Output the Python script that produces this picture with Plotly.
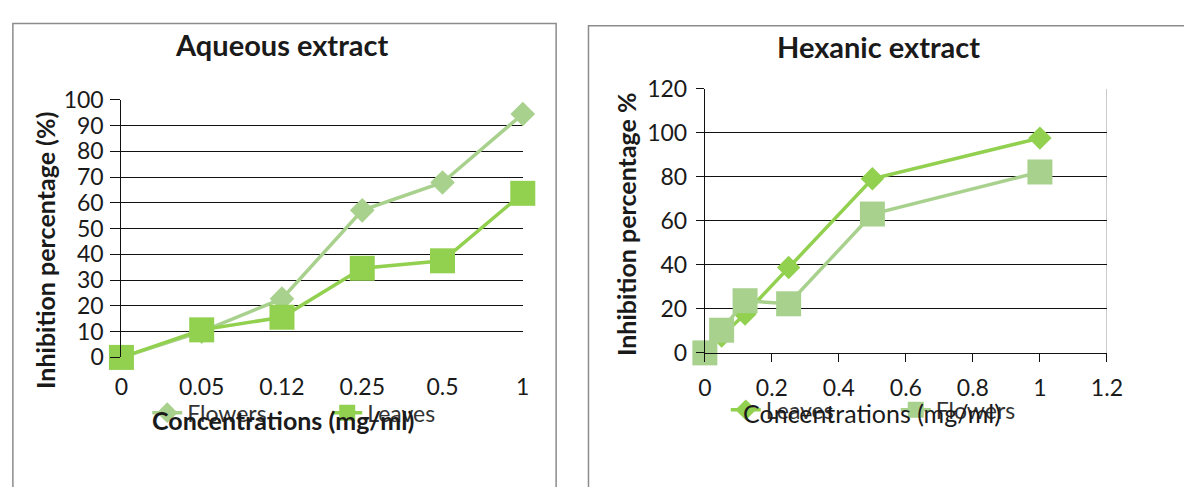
import plotly.graph_objects as go

# Concentrations tested (mg/ml)
conc_labels = ["0", "0.05", "0.12", "0.25", "0.5", "1"]
conc_values = [0, 0.05, 0.12, 0.25, 0.5, 1]

# Aqueous extract: inhibition percentage (%)
aq_flowers = [0, 10, 22.8, 57.1, 67.9, 94.5]
aq_leaves = [0, 10.7, 15.6, 34.6, 37.5, 63.7]

# Hexanic extract: inhibition percentage (%)
hex_leaves = [0, 7.7, 17.7, 38.8, 79.1, 97.6]
hex_flowers = [0, 10.3, 23.7, 22.3, 63.1, 82.2]

aq_y_ticks = list(range(0, 101, 10))
hex_y_ticks = list(range(0, 121, 20))
hex_x_ticks = [0, 0.2, 0.4, 0.6, 0.8, 1, 1.2]

LIGHT = "#a9d18e"
DARK = "#92d050"
FONT = "Lato"
INK = "#1a1a1a"
W, H = 1184, 487


def px_x(v):
    return v / W


def px_y(v):
    return (H - v) / H


fig = go.Figure()

# Aqueous extract (category positions along x)
cat_pos = list(range(len(conc_labels)))
fig.add_trace(go.Scatter(
    x=cat_pos, y=aq_flowers, name="Flowers", mode="lines+markers",
    line=dict(color=LIGHT, width=3.5),
    marker=dict(symbol="diamond", size=19, color=LIGHT),
    xaxis="x", yaxis="y", legend="legend", cliponaxis=False,
))
fig.add_trace(go.Scatter(
    x=cat_pos, y=aq_leaves, name="Leaves", mode="lines+markers",
    line=dict(color=DARK, width=3.5),
    marker=dict(symbol="square", size=25, color=DARK),
    xaxis="x", yaxis="y", legend="legend", cliponaxis=False,
))

# Hexanic extract (numeric x axis)
fig.add_trace(go.Scatter(
    x=conc_values, y=hex_leaves, name="Leaves", mode="lines+markers",
    line=dict(color=DARK, width=3.5),
    marker=dict(symbol="diamond", size=18, color=DARK),
    xaxis="x2", yaxis="y2", legend="legend2", cliponaxis=False,
))
fig.add_trace(go.Scatter(
    x=conc_values, y=hex_flowers, name="Flowers", mode="lines+markers",
    line=dict(color=LIGHT, width=3.5),
    marker=dict(symbol="square", size=25, color=LIGHT),
    xaxis="x2", yaxis="y2", legend="legend2", cliponaxis=False,
))

tick_font = dict(family=FONT, size=23, color=INK)
legend_font = dict(family=FONT, size=23, color="#333")

fig.update_layout(
    width=W, height=H,
    margin=dict(l=0, r=0, t=0, b=0),
    paper_bgcolor="white", plot_bgcolor="white",
    font=dict(family=FONT, color=INK),
    xaxis=dict(
        domain=[px_x(116.7), px_x(526)], anchor="y",
        range=[0, len(conc_labels) - 1],
        tickmode="array", tickvals=cat_pos, ticktext=conc_labels,
        showgrid=False, zeroline=False, showline=False,
        ticks="", tickfont=tick_font, ticklabelstandoff=14,
    ),
    yaxis=dict(
        domain=[px_y(363.3), px_y(90)], anchor="x",
        range=[0, 100], tickmode="array", tickvals=aq_y_ticks,
        showgrid=True, gridcolor="#111", gridwidth=1.2,
        zeroline=False, showline=True, linecolor="#111", linewidth=1.2,
        ticks="outside", ticklen=10, tickcolor="#111", tickwidth=1.2,
        tickfont=tick_font, ticklabelstandoff=2,
    ),
    xaxis2=dict(
        domain=[px_x(711.7), px_x(1121.7)], anchor="y2",
        range=[0, 1.2], tickmode="array", tickvals=hex_x_ticks,
        ticktext=[str(t) for t in hex_x_ticks],
        showgrid=False, zeroline=False,
        showline=True, linecolor="#111", linewidth=1.2,
        ticks="outside", ticklen=8, tickcolor="#111", tickwidth=1.2,
        tickfont=tick_font, ticklabelstandoff=6,
    ),
    yaxis2=dict(
        domain=[px_y(358.5), px_y(78.3)], anchor="x2",
        range=[0, 120], tickmode="array", tickvals=hex_y_ticks,
        showgrid=True, gridcolor="#111", gridwidth=1.2,
        zeroline=False, showline=True, linecolor="#111", linewidth=1.2,
        ticks="outside", ticklen=8, tickcolor="#111", tickwidth=1.2,
        tickfont=tick_font, ticklabelstandoff=4,
    ),
    legend=dict(
        orientation="h", x=px_x(143), y=px_y(422), xanchor="left", yanchor="middle",
        bgcolor="rgba(0,0,0,0)", font=legend_font,
        entrywidth=135, entrywidthmode="pixels", itemwidth=30,
        traceorder="normal",
    ),
    legend2=dict(
        orientation="h", x=px_x(733), y=px_y(419), xanchor="left", yanchor="middle",
        bgcolor="rgba(0,0,0,0)", font=legend_font,
        entrywidth=125, entrywidthmode="pixels", itemwidth=30,
        traceorder="normal",
    ),
    showlegend=True,
)

# Right-hand edge of the hexanic plot area
fig.add_shape(type="line", xref="x2", yref="y2", x0=1.2, x1=1.2, y0=0, y1=120,
              line=dict(color="#bbbbbb", width=1.5), layer="below")

# Chart frames
fig.add_shape(type="rect", xref="paper", yref="paper",
              x0=px_x(6), x1=px_x(560), y0=-0.05, y1=px_y(9),
              line=dict(color="#8c8c8c", width=1.5))
fig.add_shape(type="rect", xref="paper", yref="paper",
              x0=px_x(593), x1=1.05, y0=-0.05, y1=px_y(11.5),
              line=dict(color="#8c8c8c", width=1.5))

annotations = [
    dict(text="<b>Aqueous extract</b>", x=px_x(280), y=px_y(31), size=29),
    dict(text="<b>Hexanic extract</b>", x=px_x(889), y=px_y(33), size=29),
    dict(text="<b>Concentrations (mg/ml)</b>", x=px_x(281), y=px_y(430), size=25),
    dict(text="Concentrations (mg/ml)", x=px_x(882), y=px_y(422), size=25),
]
for a in annotations:
    fig.add_annotation(text=a["text"], x=a["x"], y=a["y"], xref="paper", yref="paper",
                       showarrow=False, xanchor="center", yanchor="middle",
                       font=dict(family=FONT, size=a["size"], color=INK))

fig.add_annotation(text="<b>Inhibition percentage (%)</b>", x=px_x(38), y=px_y(250),
                   xref="paper", yref="paper", showarrow=False, textangle=-90,
                   xanchor="center", yanchor="middle",
                   font=dict(family=FONT, size=25, color=INK))
fig.add_annotation(text="<b>Inhibition percentage %</b>", x=px_x(632), y=px_y(222),
                   xref="paper", yref="paper", showarrow=False, textangle=-90,
                   xanchor="center", yanchor="middle",
                   font=dict(family=FONT, size=25, color=INK))

fig.write_html("out.html")
